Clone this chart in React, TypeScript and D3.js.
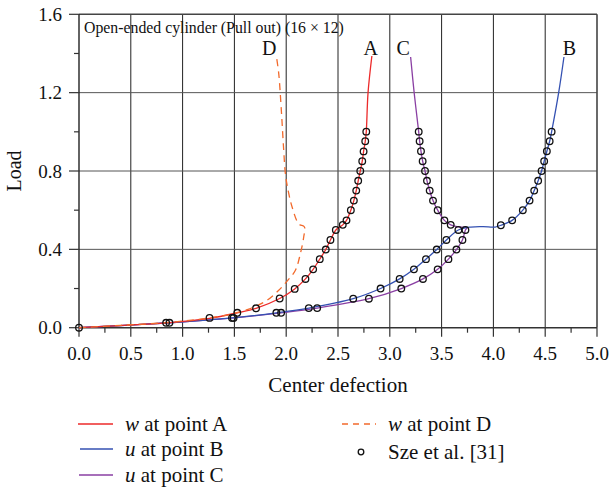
import React from "react";
import * as d3 from "d3";

type P = [number, number];

const xTicks = [0, 0.5, 1, 1.5, 2, 2.5, 3, 3.5, 4, 4.5, 5];
const yTicks = [0, 0.4, 0.8, 1.2, 1.6];

const wPointA: P[] = [
  [0, 0], [0.4, 0.011], [0.84, 0.025], [1.26, 0.048], [1.528, 0.076], [1.709, 0.099],
  [1.937, 0.149], [2.082, 0.198], [2.186, 0.249], [2.26, 0.298], [2.324, 0.35],
  [2.382, 0.399], [2.427, 0.448], [2.479, 0.499], [2.546, 0.525], [2.582, 0.548],
  [2.624, 0.6], [2.653, 0.649], [2.676, 0.7], [2.695, 0.75], [2.715, 0.8],
  [2.734, 0.85], [2.747, 0.9], [2.763, 0.952], [2.773, 1.001], [2.79, 1.2], [2.827, 1.387],
];

const uPointB: P[] = [
  [0, 0], [0.4, 0.011], [0.84, 0.024], [1.26, 0.04], [1.477, 0.05], [1.905, 0.076],
  [2.218, 0.1], [2.647, 0.148], [2.911, 0.2], [3.095, 0.249], [3.233, 0.298],
  [3.349, 0.35], [3.453, 0.399], [3.546, 0.448], [3.662, 0.499], [3.78, 0.514],
  [3.9, 0.516], [4.017, 0.514], [4.072, 0.523], [4.181, 0.548], [4.284, 0.6],
  [4.349, 0.649], [4.394, 0.7], [4.432, 0.75], [4.465, 0.8], [4.49, 0.85],
  [4.516, 0.901], [4.543, 0.952], [4.562, 1.001], [4.63, 1.2], [4.681, 1.382],
];

const uPointC: P[] = [
  [0, 0], [0.4, 0.011], [0.84, 0.024], [1.26, 0.04], [1.492, 0.05], [1.951, 0.076],
  [2.299, 0.1], [2.798, 0.148], [3.111, 0.2], [3.32, 0.249], [3.462, 0.298],
  [3.566, 0.35], [3.643, 0.399], [3.701, 0.448], [3.73, 0.499], [3.745, 0.511],
  [3.66, 0.515], [3.588, 0.525], [3.527, 0.548], [3.462, 0.6], [3.417, 0.649],
  [3.385, 0.7], [3.359, 0.75], [3.34, 0.8], [3.317, 0.85], [3.301, 0.901],
  [3.288, 0.952], [3.279, 1.0], [3.235, 1.2], [3.201, 1.382],
];

const wPointD: P[] = [
  [0, 0], [0.4, 0.012], [0.84, 0.026], [1.26, 0.05], [1.492, 0.072], [1.654, 0.098],
  [1.815, 0.14], [1.928, 0.191], [2.015, 0.242], [2.089, 0.293], [2.137, 0.379],
  [2.169, 0.463], [2.176, 0.514], [2.121, 0.53], [2.057, 0.616], [2.018, 0.702],
  [1.992, 0.787], [1.976, 0.906], [1.951, 1.127], [1.928, 1.297], [1.905, 1.387],
];

const szePoints: P[] = [
  [0, 0], [0.841, 0.025], [0.873, 0.025], [1.26, 0.05],
  [1.528, 0.076], [1.709, 0.099], [1.937, 0.149], [2.082, 0.198], [2.186, 0.249],
  [2.26, 0.298], [2.324, 0.35], [2.382, 0.399], [2.427, 0.448], [2.479, 0.499],
  [2.546, 0.525], [2.582, 0.548], [2.624, 0.6], [2.653, 0.649], [2.676, 0.7],
  [2.695, 0.75], [2.715, 0.8], [2.734, 0.85], [2.747, 0.9], [2.763, 0.952], [2.773, 1.001],
  [1.477, 0.05], [1.492, 0.05], [1.905, 0.076], [1.951, 0.076], [2.218, 0.1], [2.299, 0.1],
  [2.647, 0.148], [2.798, 0.148], [2.911, 0.2], [3.111, 0.2], [3.095, 0.249], [3.32, 0.249],
  [3.233, 0.298], [3.462, 0.298], [3.349, 0.35], [3.566, 0.35], [3.453, 0.399], [3.643, 0.399],
  [3.546, 0.448], [3.701, 0.448], [3.662, 0.499], [3.73, 0.499],
  [3.588, 0.525], [3.527, 0.548], [3.462, 0.6], [3.417, 0.649], [3.385, 0.7], [3.359, 0.75],
  [3.34, 0.8], [3.317, 0.85], [3.301, 0.901], [3.288, 0.952], [3.279, 1.001],
  [4.072, 0.523], [4.181, 0.548], [4.284, 0.6], [4.349, 0.649], [4.394, 0.7], [4.432, 0.75],
  [4.465, 0.8], [4.49, 0.85], [4.516, 0.901], [4.543, 0.952], [4.562, 1.001],
];

const curveLabels: { text: string; x: number; y: number }[] = [
  { text: "D", x: 1.837, y: 1.43 },
  { text: "A", x: 2.816, y: 1.43 },
  { text: "C", x: 3.13, y: 1.43 },
  { text: "B", x: 4.733, y: 1.43 },
];

const title = "Open-ended cylinder (Pull out) (16 × 12)";
const xTitle = "Center defection";
const yTitle = "Load";

const RED = "#ec2a2a";
const BLUE = "#3451b2";
const PURPLE = "#8a3fa3";
const ORANGE = "#f26a2c";
const FONT = "Liberation Serif";

export default function App() {
  const W = 615, H = 487;
  const L = 79, R = 597, T = 14.3, B = 327.7;
  const x = d3.scaleLinear().domain([0, 5]).range([L, R]);
  const y = d3.scaleLinear().domain([0, 1.6]).range([B, T]);
  const line = d3.line<P>().x((d) => x(d[0])).y((d) => y(d[1])).curve(d3.curveCatmullRom.alpha(0.5));

  const minorX = d3.range(0, 5.001, 0.25).filter((v) => Math.abs(v * 2 - Math.round(v * 2)) > 1e-6);
  const minorY = d3.range(0, 1.601, 0.2).filter((v) => Math.abs(v / 0.4 - Math.round(v / 0.4)) > 1e-6);
  const tf = { fontFamily: FONT } as React.CSSProperties;

  return (
    <svg width={W} height={H} style={{ position: "absolute", left: 0, top: 0, background: "#fff", fontFamily: FONT }}>
      {xTicks.slice(1, -1).map((v) => (
        <line key={"gx" + v} x1={x(v)} x2={x(v)} y1={T} y2={B} stroke="#222" strokeWidth={1} />
      ))}
      {yTicks.slice(1, -1).map((v) => (
        <line key={"gy" + v} x1={L} x2={R} y1={y(v)} y2={y(v)} stroke="#555" strokeWidth={1} />
      ))}
      <line x1={L} x2={R} y1={T} y2={T} stroke="#444" strokeWidth={1.6} />
      <line x1={R} x2={R} y1={T} y2={B} stroke="#444" strokeWidth={1.6} />
      <line x1={L} x2={L} y1={T} y2={B} stroke="#222" strokeWidth={1.4} />
      <line x1={L} x2={R} y1={B} y2={B} stroke="#333" strokeWidth={1.6} />
      {xTicks.map((v) => (
        <g key={"xt" + v}>
          <line x1={x(v)} x2={x(v)} y1={B} y2={B + 9} stroke="#333" strokeWidth={1.2} />
          <text style={tf} x={x(v)} y={B + 32} textAnchor="middle" fontSize={19} fill="#111">{v.toFixed(1)}</text>
        </g>
      ))}
      {minorX.map((v) => (
        <line key={"mx" + v} x1={x(v)} x2={x(v)} y1={B} y2={B + 5} stroke="#333" strokeWidth={1.2} />
      ))}
      {yTicks.map((v) => (
        <g key={"yt" + v}>
          <line x1={L - 10} x2={L} y1={y(v)} y2={y(v)} stroke="#333" strokeWidth={1.2} />
          <text style={tf} x={L - 17} y={y(v) + 6.5} textAnchor="end" fontSize={19} fill="#111">{v.toFixed(1)}</text>
        </g>
      ))}
      {minorY.map((v) => (
        <line key={"my" + v} x1={L - 5} x2={L} y1={y(v)} y2={y(v)} stroke="#333" strokeWidth={1.2} />
      ))}
      <text style={tf} x={84} y={33} fontSize={15.8} fill="#111">{title}</text>
      <text style={tf} x={338} y={392} textAnchor="middle" fontSize={21} fill="#111">{xTitle}</text>
      <text style={tf} transform={`translate(21,171) rotate(-90)`} textAnchor="middle" fontSize={20} fill="#111">{yTitle}</text>
      <path d={line(uPointC) || ""} fill="none" stroke={PURPLE} strokeWidth={1.3} />
      <path d={line(uPointB) || ""} fill="none" stroke={BLUE} strokeWidth={1.3} />
      <path d={line(wPointA) || ""} fill="none" stroke={RED} strokeWidth={1.3} />
      <path d={line(wPointD) || ""} fill="none" stroke={ORANGE} strokeWidth={1.3} strokeDasharray="7,5" />
      {szePoints.map((p, i) => (
        <circle key={"s" + i} cx={x(p[0])} cy={y(p[1])} r={3.3} fill="none" stroke="#111" strokeWidth={1.3} />
      ))}
      {curveLabels.map((c) => (
        <text style={tf} key={c.text} x={x(c.x)} y={y(c.y) + 7} textAnchor="middle" fontSize={20} fill="#111">{c.text}</text>
      ))}
      <g fontSize={21} fill="#111">
        <line x1={78} x2={113} y1={424} y2={424} stroke={RED} strokeWidth={1.3} />
        <text style={tf} x={125} y={431}><tspan fontStyle="italic">w</tspan> at point A</text>
        <line x1={80} x2={113} y1={449} y2={449} stroke={BLUE} strokeWidth={1.3} />
        <text style={tf} x={125} y={456}><tspan fontStyle="italic">u</tspan> at point B</text>
        <line x1={79} x2={113} y1={475} y2={475} stroke={PURPLE} strokeWidth={1.3} />
        <text style={tf} x={125} y={482}><tspan fontStyle="italic">u</tspan> at point C</text>
        <line x1={342} x2={376} y1={424} y2={424} stroke={ORANGE} strokeWidth={1.3} strokeDasharray="6,5" />
        <text style={tf} x={388} y={431}><tspan fontStyle="italic">w</tspan> at point D</text>
        <circle cx={361} cy={452} r={2.8} fill="none" stroke="#111" strokeWidth={1.3} />
        <text style={tf} x={388} y={459}>Sze et al. [31]</text>
      </g>
    </svg>
  );
}
